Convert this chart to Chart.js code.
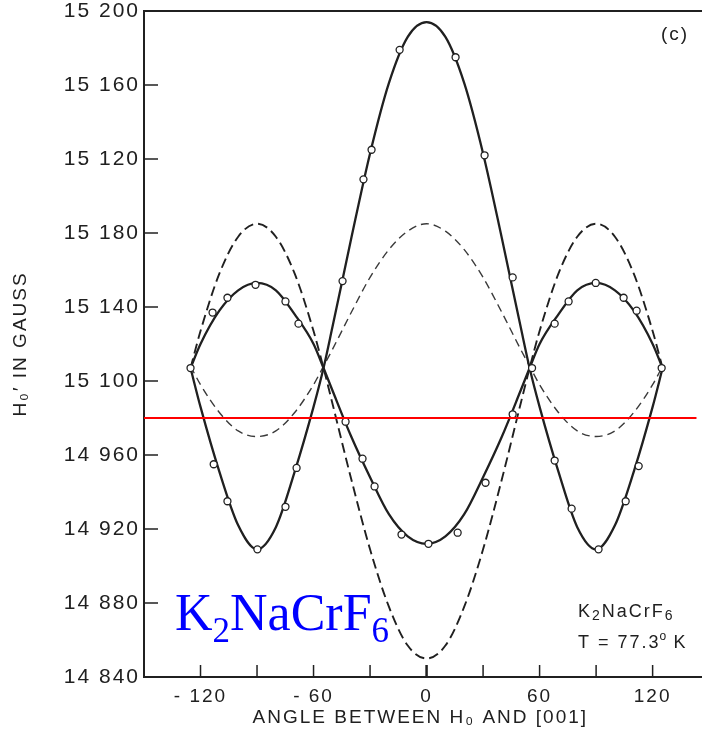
<!DOCTYPE html>
<html>
<head>
<meta charset="utf-8">
<script src="https://cdn.jsdelivr.net/npm/chart.js@4"></script>
<style>
html, body { margin: 0; padding: 0; background: #fff; }
</style>
</head>
<body>
<canvas id="myChart" width="702" height="737"></canvas>
<script>
var angles = [-125.3, -120, -110, -100, -90, -80, -70, -60, -54.7, -50, -40, -30, -20, -10, 0,
              10, 20, 30, 40, 50, 54.7, 60, 70, 80, 90, 100, 110, 120, 125.3];

// solid curve with the big central maximum
var peakCurve = [15007, 14986, 14951, 14922, 14909, 14921, 14951, 14986, 15007, 15029, 15077, 15123, 15161, 15186, 15194,
                 15186, 15161, 15123, 15077, 15029, 15007, 14986, 14951, 14921, 14909, 14922, 14951, 14986, 15007];
// solid curve with the lobes at +-90
var lobeCurve = [15007, 15020, 15038, 15049, 15053, 15049, 15036, 15020, 15007, 14995, 14970, 14948, 14928, 14916, 14912,
                 14916, 14928, 14948, 14970, 14995, 15007, 15020, 15036, 15049, 15053, 15049, 15038, 15020, 15007];
// heavy dashed curve (deep minimum at 0)
var deepDash = [15007, 15027, 15058, 15078, 15085, 15078, 15058, 15027, 15007, 14988, 14947, 14909, 14878, 14857, 14850,
                14857, 14878, 14909, 14947, 14988, 15007, 15027, 15058, 15078, 15085, 15078, 15058, 15027, 15007];
// light dashed curve (maximum at 0)
var lightDash = [15008, 14998, 14983, 14973, 14970, 14973, 14983, 14998, 15008, 15017, 15037, 15056, 15071, 15081, 15085,
                 15081, 15071, 15056, 15037, 15017, 15008, 14998, 14983, 14973, 14970, 14973, 14983, 14998, 15008];

// measured points (open circles)
var peakPtsX = [-125.3, -113, -105.7, -89.8, -74.9, -69, -44.6, -33.5, -29.2, -14.3, 15.4, 30.8, 45.7, 56, 68, 77, 91.3, 105.7, 112.6, 124.8];
var peakPtsY = [15007, 14955, 14935, 14909, 14932, 14953, 15054, 15109, 15125, 15179, 15175, 15122, 15056, 15007, 14957, 14931, 14909, 14935, 14954, 15007];
var lobePtsX = [-113.6, -105.7, -90.8, -74.9, -68, -43, -34, -27.6, -13.3, 1, 16.5, 31.3, 45.7, 68, 75.4, 89.8, 104.6, 111.5];
var lobePtsY = [15037, 15045, 15052, 15043, 15031, 14978, 14958, 14943, 14917, 14912, 14918, 14945, 14982, 15031, 15043, 15053, 15045, 15038];

var redLevel = 14980;

var xTicks = [-120, -90, -60, -30, 0, 30, 60, 90, 120];
var yTicks = [14840, 14880, 14920, 14960, 15000, 15040, 15080, 15120, 15160, 15200];
var yTickLabels = ['14 840', '14 880', '14 920', '14 960', '15 100', '15 140', '15 180', '15 120', '15 160', '15 200'];

var ink = '#202020';
var xMin = -150, xMax = 143.4;

function pts(xs, ys) {
  return xs.map(function (x, i) { return { x: x, y: ys[i] }; });
}

function drawParts(c, parts, x, y) {
  parts.forEach(function (p) {
    c.font = p.font;
    c.fillText(p.t, x, y + (p.dy || 0));
    x += c.measureText(p.t).width;
  });
}

var decorations = {
  id: 'decorations',
  beforeDraw: function (chart) {
    // the scanned lettering is widely spaced
    chart.ctx.letterSpacing = '2px';
  },
  afterDraw: function (chart) {
    var c = chart.ctx, a = chart.chartArea, xs = chart.scales.x, ys = chart.scales.y;
    c.save();
    c.strokeStyle = ink;
    c.lineWidth = 2;
    // frame runs off the right edge of the scan
    c.beginPath(); c.moveTo(a.left, a.top); c.lineTo(chart.width, a.top); c.stroke();
    c.beginPath(); c.moveTo(a.right - 1, a.bottom); c.lineTo(chart.width, a.bottom); c.stroke();
    // inward tick marks
    c.lineWidth = 1.5;
    yTicks.forEach(function (v) {
      if (v === yTicks[0] || v === yTicks[yTicks.length - 1]) return;
      var py = ys.getPixelForValue(v);
      c.beginPath(); c.moveTo(a.left, py); c.lineTo(a.left + 14, py); c.stroke();
    });
    xTicks.forEach(function (v) {
      var px = xs.getPixelForValue(v);
      c.lineWidth = v === 0 ? 2.5 : 1.5;
      c.beginPath(); c.moveTo(px, a.bottom); c.lineTo(px, a.bottom - 12); c.stroke();
    });

    c.fillStyle = ink;
    c.textBaseline = 'alphabetic';
    c.letterSpacing = '2px';
    c.font = '19px "Liberation Sans"';
    c.fillText('(c)', 661, 40);
    var sf = '18px "Liberation Sans"', sub = '14px "Liberation Sans"';
    drawParts(c, [{ t: 'K', font: sf }, { t: '2', font: sub, dy: 3 }, { t: 'NaCrF', font: sf }, { t: '6', font: sub, dy: 3 }], 578, 617);
    c.font = sf;
    c.fillText('T = 77.3', 578, 648);
    var w = c.measureText('T = 77.3').width;
    c.font = '12px "Liberation Sans"';
    c.fillText('o', 578 + w - 1, 640);
    c.font = sf;
    c.fillText('K', 578 + w + 13, 648);

    c.letterSpacing = '0px';
    c.fillStyle = '#0000ff';
    var bf = '52px "Liberation Serif"', bs = '35px "Liberation Serif"';
    drawParts(c, [{ t: 'K', font: bf }, { t: '2', font: bs, dy: 12 }, { t: 'NaCrF', font: bf }, { t: '6', font: bs, dy: 12 }], 175, 630);
    c.restore();
  }
};

var ctx = document.getElementById('myChart').getContext('2d');
var chart = new Chart(ctx, {
  type: 'line',
  data: {
    datasets: [
      {
        label: 'red level',
        data: [{ x: xMin, y: redLevel }, { x: xMax, y: redLevel }],
        borderColor: '#ff0000', borderWidth: 2, pointRadius: 0, tension: 0
      },
      {
        label: 'peak points',
        data: pts(peakPtsX, peakPtsY),
        showLine: false, pointRadius: 3.5, pointBackgroundColor: '#fff',
        pointBorderColor: ink, pointBorderWidth: 1.3
      },
      {
        label: 'lobe points',
        data: pts(lobePtsX, lobePtsY),
        showLine: false, pointRadius: 3.5, pointBackgroundColor: '#fff',
        pointBorderColor: ink, pointBorderWidth: 1.3
      },
      {
        label: 'peak curve',
        data: pts(angles, peakCurve),
        borderColor: ink, borderWidth: 2.3, pointRadius: 0, cubicInterpolationMode: 'monotone'
      },
      {
        label: 'lobe curve',
        data: pts(angles, lobeCurve),
        borderColor: ink, borderWidth: 2.3, pointRadius: 0, cubicInterpolationMode: 'monotone'
      },
      {
        label: 'deep dashed',
        data: pts(angles, deepDash),
        borderColor: ink, borderWidth: 1.9, borderDash: [10, 5], pointRadius: 0, cubicInterpolationMode: 'monotone'
      },
      {
        label: 'light dashed',
        data: pts(angles, lightDash),
        borderColor: '#3a3a3a', borderWidth: 1.4, borderDash: [8, 5], pointRadius: 0, cubicInterpolationMode: 'monotone'
      }
    ]
  },
  options: {
    responsive: false,
    animation: false,
    layout: { padding: { top: 11, left: 0, right: 0, bottom: 0 } },
    plugins: { legend: { display: false }, tooltip: { enabled: false } },
    scales: {
      x: {
        type: 'linear', min: xMin, max: xMax,
        afterBuildTicks: function (s) { s.ticks = xTicks.map(function (v) { return { value: v }; }); },
        afterFit: function (s) { s.height = 60; s.paddingLeft = 0; s.paddingRight = 0; },
        grid: { display: false, drawTicks: false },
        border: { color: ink, width: 2 },
        ticks: {
          padding: 8, color: ink, maxRotation: 0, autoSkip: false,
          font: { family: 'Liberation Sans', size: 19 },
          callback: function (v) { return v % 60 === 0 ? (v < 0 ? '- ' + (-v) : String(v)) : ''; }
        },
        title: {
          display: true, text: 'ANGLE BETWEEN H\u2080 AND [001]', color: ink,
          font: { family: 'Liberation Sans', size: 19 }, padding: { top: 0, bottom: 8 }
        }
      },
      y: {
        type: 'linear', min: 14840, max: 15200,
        afterBuildTicks: function (s) { s.ticks = yTicks.map(function (v) { return { value: v }; }); },
        afterFit: function (s) { s.width = 144; s.paddingTop = 0; s.paddingBottom = 0; },
        grid: { display: false, drawTicks: false },
        border: { color: ink, width: 2 },
        ticks: {
          padding: 4, color: ink, autoSkip: false,
          font: { family: 'Liberation Sans', size: 21 },
          callback: function (v) { return yTickLabels[yTicks.indexOf(v)]; }
        },
        title: {
          display: true, text: 'H\u2080\u2032 IN GAUSS', color: ink,
          font: { family: 'Liberation Sans', size: 19 }, padding: { top: 9, bottom: 0 }
        }
      }
    }
  },
  plugins: [decorations]
});
</script>
</body>
</html>
